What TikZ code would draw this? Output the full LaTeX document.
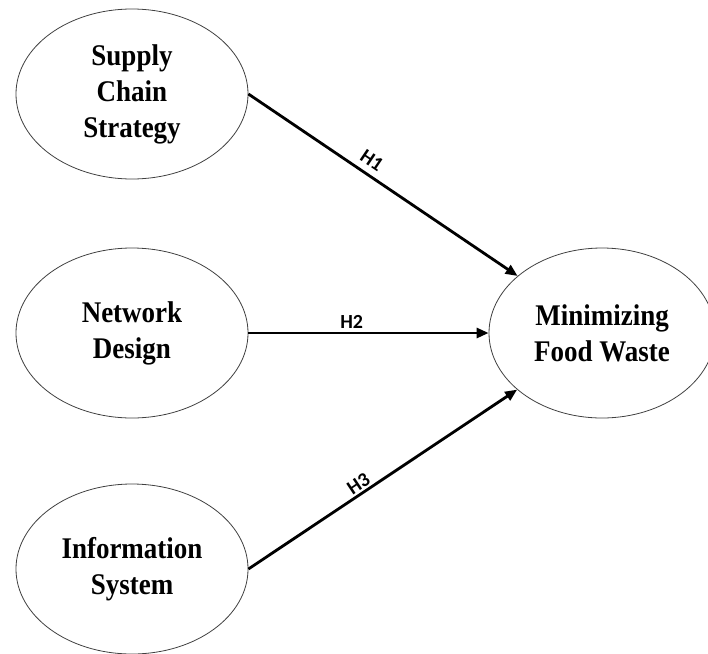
\documentclass[tikz,border=0pt]{standalone}
\usepackage{fontspec}
\setmainfont{Liberation Serif}
\newfontfamily\tfont[FakeStretch=0.9]{Liberation Serif}
\newfontfamily\hfont{Carlito}
\usetikzlibrary{shapes.geometric,arrows.meta}
\begin{document}
\begin{tikzpicture}[x=1pt,y=-1pt,
  construct/.style={ellipse,draw=black!75,line width=0.8pt,minimum width=232pt,minimum height=170pt,
    align=center,inner sep=0pt,font=\tfont\fontsize{30}{36}\selectfont\bfseries},
  path/.style={line width=2.8pt,-{Triangle[length=12pt,width=10pt]}},
  hlab/.style={sloped,above,pos=0.43,inner sep=4pt,font=\hfont\fontsize{20}{22}\selectfont\bfseries}]
\useasboundingbox (0,0) rectangle (708,653);
\node[construct] (scs) at (132,94) {Supply\\Chain\\Strategy};
\node[construct] (nd) at (132,333) {Network\\Design};
\node[construct] (is) at (132,569) {Information\\System};
\node[construct,minimum width=226pt] (mfw) at (602,333) {Minimizing\\Food Waste};
\draw[path] (scs.east) -- node[hlab,inner sep=6pt]{H1} (mfw);
\draw[path] (nd.east) -- node[hlab,inner sep=3pt]{H2} (mfw.west);
\draw[path] (is.east) -- node[hlab,inner sep=2pt]{H3} (mfw);
\end{tikzpicture}
\end{document}
